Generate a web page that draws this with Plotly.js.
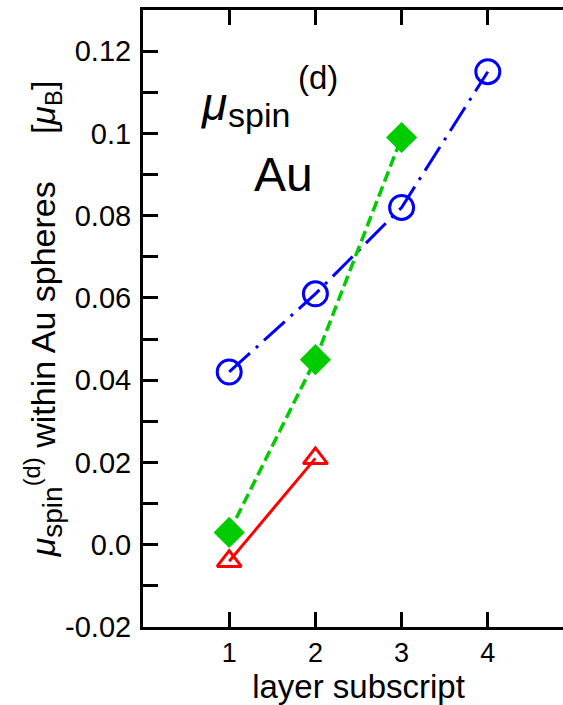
<!DOCTYPE html>
<html>
<head>
<meta charset="utf-8">
<script src="https://cdn.plot.ly/plotly-3.0.1.min.js"></script>
<style>
  html, body { margin: 0; padding: 0; overflow: hidden; background: #fff; }
  #chart { width: 600px; height: 705px; }
</style>
</head>
<body>
<div id="chart"></div>
<script>
// ---- data ----
const layersBlue = [1, 2, 3, 4];
const spinBlue   = [0.042, 0.061, 0.082, 0.115];
const layersGreen = [1, 2, 3];
const spinGreen   = [0.003, 0.045, 0.099];
const layersRed = [1, 2];
const spinRed   = [-0.004, 0.021];

const xTickVals = [1, 2, 3, 4];
const yTickVals = [-0.02, 0.0, 0.02, 0.04, 0.06, 0.08, 0.10, 0.12];
const yTickText = ['-0.02', '0.0', '0.02', '0.04', '0.06', '0.08', '0.1', '0.12'];

// ---- styling ----
const FONT = 'Liberation Sans, Arial, Helvetica, sans-serif';
const W = 600, H = 705;
const M = { l: 143, r: 26, t: 10, b: 78 };
const plotW = W - M.l - M.r, plotH = H - M.t - M.b;
const px = v => (v - M.l) / plotW;          // pixel -> paper x
const py = v => 1 - (v - M.t) / plotH;      // pixel -> paper y

const traces = [
  {
    x: layersBlue, y: spinBlue, type: 'scatter', mode: 'lines+markers',
    line: { color: '#0000ff', width: 3, dash: '28px,8px,3px,8px' },
    marker: { symbol: 'circle-open', size: 24, color: '#0000ff', line: { width: 3, color: '#0000ff' } },
    showlegend: false
  },
  {
    x: layersGreen, y: spinGreen, type: 'scatter', mode: 'lines+markers',
    line: { color: '#00cc00', width: 3.5, dash: '11px,5px' },
    marker: { symbol: 'diamond', size: 24, color: '#00cc00' },
    showlegend: false
  },
  {
    x: layersRed, y: spinRed, type: 'scatter', mode: 'lines+markers',
    line: { color: '#ff0000', width: 3 },
    marker: { symbol: 'triangle-up-open', size: 21, color: '#ff0000', line: { width: 3, color: '#ff0000' } },
    showlegend: false
  }
];

const NB = '\u00a0';
const layout = {
  width: W, height: H,
  margin: M,
  paper_bgcolor: '#fff', plot_bgcolor: '#fff',
  font: { family: FONT, color: '#000' },
  showlegend: false,
  xaxis: {
    range: [0, 5], tickvals: xTickVals, ticktext: xTickVals.map(String),
    ticks: 'inside', ticklen: 15, tickwidth: 3, tickcolor: '#000',
    showline: true, linewidth: 3, linecolor: '#000', mirror: 'ticks',
    showgrid: false, zeroline: false,
    tickfont: { family: FONT, size: 27 },
    title: { text: 'layer subscript', font: { family: FONT, size: 33 }, standoff: 0 }
  },
  yaxis: {
    range: [-0.02, 0.13], tickvals: yTickVals, ticktext: yTickText,
    ticks: 'inside', ticklen: 15, tickwidth: 3, tickcolor: '#000',
    minor: { tick0: 0, dtick: 0.01, ticks: 'inside', ticklen: 15, tickwidth: 3, tickcolor: '#000', showgrid: false },
    showline: true, linewidth: 3, linecolor: '#000',
    showgrid: false, zeroline: false,
    tickfont: { family: FONT, size: 29 },
    ticklabelstandoff: 3,
    title: {
      text: NB + NB + NB + '<i>μ</i><sub><span style="font-size:28px">spin</span></sub><sup>(d)</sup>' + NB + 'within Au spheres' +
            NB + NB + NB + NB + NB + '[<i>μ</i><sub>B</sub>]',
      font: { family: FONT, size: 34 }, standoff: 0
    }
  },
  yaxis2: {
    overlaying: 'y', side: 'right',
    range: [-0.02, 0.13], tickvals: yTickVals,
    ticks: 'inside', ticklen: 15, tickwidth: 3, tickcolor: '#000',
    showticklabels: false,
    showline: true, linewidth: 3, linecolor: '#000',
    showgrid: false, zeroline: false
  },
  annotations: [
    { xref: 'paper', yref: 'paper', x: px(199), y: py(104), xanchor: 'left', yanchor: 'middle',
      text: '<i>μ</i>', showarrow: false, font: { family: FONT, size: 46 } },
    { xref: 'paper', yref: 'paper', x: px(226), y: py(115), xanchor: 'left', yanchor: 'middle',
      text: 'spin', showarrow: false, font: { family: FONT, size: 34 } },
    { xref: 'paper', yref: 'paper', x: px(296), y: py(77), xanchor: 'left', yanchor: 'middle',
      text: '(d)', showarrow: false, font: { family: FONT, size: 33 } },
    { xref: 'paper', yref: 'paper', x: px(283), y: py(175), xanchor: 'center', yanchor: 'middle',
      text: 'Au', showarrow: false, font: { family: FONT, size: 48 } }
  ]
};

Plotly.newPlot('chart', traces, layout, { displayModeBar: false, staticPlot: true });
</script>
</body>
</html>
